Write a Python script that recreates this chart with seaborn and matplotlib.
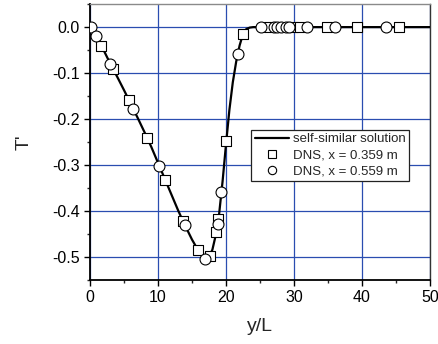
import matplotlib
matplotlib.use("Agg")
import matplotlib.pyplot as plt
from matplotlib.ticker import MultipleLocator
from matplotlib.lines import Line2D
import seaborn as sns
import pandas as pd

# Self-similar solution profile
sol_x = [0, 0.5, 1, 2, 3, 4, 5, 6, 7, 8, 9, 10, 11, 12, 13, 14, 15, 16, 16.5, 17,
         17.5, 18, 18.5, 19, 19.5, 20, 20.5, 21, 21.5, 22, 22.5, 23, 23.5, 24, 25, 30, 50]
sol_y = [0, -0.010, -0.022, -0.050, -0.080, -0.108, -0.137, -0.167, -0.197, -0.228,
         -0.260, -0.295, -0.330, -0.365, -0.400, -0.432, -0.462, -0.488, -0.498, -0.503,
         -0.500, -0.484, -0.452, -0.405, -0.335, -0.255, -0.180, -0.120, -0.075, -0.040,
         -0.015, -0.004, -0.001, 0, 0, 0, 0]

# DNS, x = 0.359 m
dns1_x = [1.6, 3.4, 5.74, 8.4, 11.1, 13.7, 15.9, 17.6, 18.6, 18.8, 20.05, 22.5,
          26.3, 29.9, 30.9, 34.9, 39.2, 45.5]
dns1_y = [-0.040, -0.092, -0.159, -0.241, -0.333, -0.422, -0.485, -0.498, -0.445,
          -0.417, -0.248, -0.014, 0, 0, 0, 0, 0, 0]

# DNS, x = 0.559 m
dns2_x = [0.1, 0.83, 3.0, 6.3, 10.15, 14.0, 16.96, 18.8, 19.3, 21.76, 25.1, 27.0,
          27.5, 28.1, 28.8, 29.3, 31.9, 36.0, 43.5]
dns2_y = [0.0, -0.020, -0.081, -0.178, -0.301, -0.430, -0.504, -0.429, -0.359, -0.059,
          0, 0, 0, 0, 0, 0, 0, 0, 0]

x_ticks = [0, 10, 20, 30, 40, 50]
y_ticks = [0.0, -0.1, -0.2, -0.3, -0.4, -0.5]

sns.set_style("white")
plt.rcParams["font.family"] = ["Liberation Sans", "DejaVu Sans"]

fig = plt.figure(figsize=(4.39, 3.44), dpi=100)
ax = fig.add_axes([0.205, 0.186, 0.7745, 0.802])

sol = pd.DataFrame({"x": sol_x, "y": sol_y})
d1 = pd.DataFrame({"x": dns1_x, "y": dns1_y})
d2 = pd.DataFrame({"x": dns2_x, "y": dns2_y})

sns.lineplot(data=sol, x="x", y="y", ax=ax, color="black", linewidth=1.6,
             sort=False, zorder=3)
sns.scatterplot(data=d1, x="x", y="y", ax=ax, marker="s", s=42, facecolor="white",
                edgecolor="black", linewidth=0.8, zorder=4)
sns.scatterplot(data=d2, x="x", y="y", ax=ax, marker="o", s=62, facecolor="white",
                edgecolor="black", linewidth=0.8, zorder=5)

ax.set_xlim(0, 50)
ax.set_ylim(-0.55, 0.05)
ax.set_xticks(x_ticks)
ax.set_yticks(y_ticks)
ax.set_yticklabels([f"{v:.1f}" for v in y_ticks])
ax.xaxis.set_minor_locator(MultipleLocator(5))
ax.yaxis.set_minor_locator(MultipleLocator(0.05))
ax.tick_params(which="major", direction="out", length=4, width=1, labelsize=11.5,
               colors="black", bottom=True, left=True)
ax.tick_params(which="minor", direction="out", length=2.5, width=1,
               bottom=True, left=True)
ax.grid(True, which="major", color="#2a4db0", linewidth=0.9)
ax.set_axisbelow(True)

for side in ("left", "bottom"):
    ax.spines[side].set_color("black")
    ax.spines[side].set_linewidth(1.3)
ax.spines["top"].set_color("#8a8a8a")
ax.spines["right"].set_color("#333333")
for side in ("top", "right"):
    ax.spines[side].set_linewidth(1.0)

ax.set_xlabel("y/L", fontsize=14, labelpad=9)
ax.set_ylabel("T'", fontsize=14, labelpad=14)

handles = [
    Line2D([], [], color="black", linewidth=1.6),
    Line2D([], [], linestyle="none", marker="s", markersize=5.5,
           markerfacecolor="white", markeredgecolor="black", markeredgewidth=0.8),
    Line2D([], [], linestyle="none", marker="o", markersize=6,
           markerfacecolor="white", markeredgecolor="black", markeredgewidth=0.8),
]
labels = ["self-similar solution", "DNS, x = 0.359 m", "DNS, x = 0.559 m"]
leg = ax.legend(handles, labels, loc="upper left", bbox_to_anchor=(0.475, 0.545),
                fontsize=9.5, frameon=True, fancybox=False, framealpha=1,
                edgecolor="#222222", borderpad=0.25, labelspacing=0.3,
                handlelength=2.6, handletextpad=0.3, borderaxespad=0)
leg.get_frame().set_linewidth(0.9)

fig.savefig("out.png", dpi=100)
